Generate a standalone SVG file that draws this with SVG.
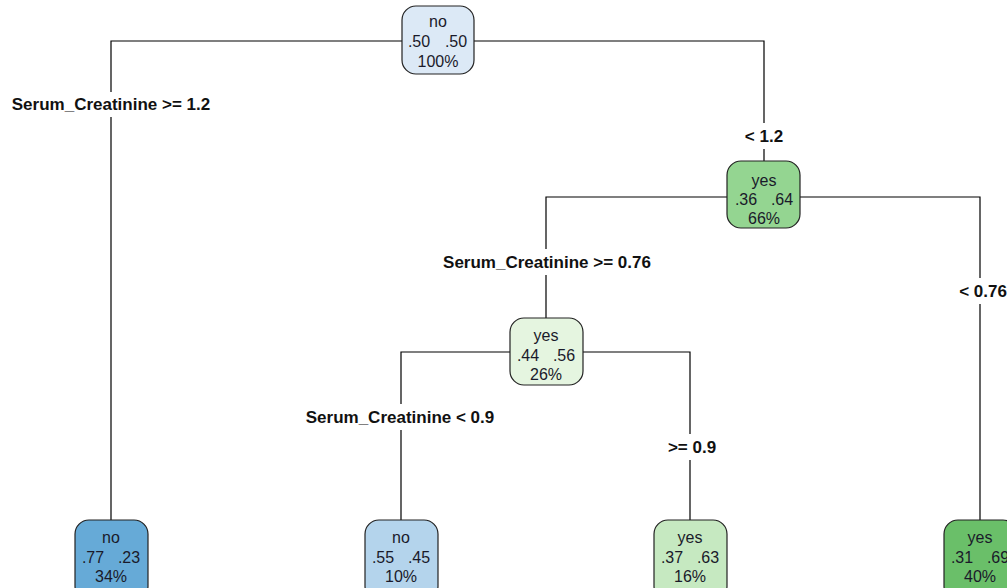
<svg xmlns="http://www.w3.org/2000/svg" width="1007" height="588" viewBox="0 0 1007 588">
<style>
.bg{fill:#ffffff}
.edge{stroke:#000;stroke-width:1.2;fill:none}
.box{stroke:#222;stroke-width:1.2}
.t{font-family:"Liberation Sans",Arial,sans-serif;font-size:16px;fill:#1a1a2a;text-anchor:middle}
.lbl{font-family:"Liberation Sans",Arial,sans-serif;font-size:17px;font-weight:bold;fill:#111;text-anchor:middle}
</style>
<rect class="bg" width="1007" height="588"/>
<g id="connectors">
<path class="edge" d="M402,41 H111 V92 M111,117 V520"/>
<path class="edge" d="M474,41 H764 V123 M764,149 V161"/>
<path class="edge" d="M727,197 H546 V249 M546,275 V318"/>
<path class="edge" d="M800,197 H980 V278 M980,304 V520"/>
<path class="edge" d="M510,352 H401 V404 M401,430 V520"/>
<path class="edge" d="M583,352 H690 V434 M690,460 V520"/>
</g>
<g id="labels">
<text class="lbl" x="111" y="110">Serum_Creatinine &gt;= 1.2</text>
<text class="lbl" x="764" y="142">&lt; 1.2</text>
<text class="lbl" x="547" y="268">Serum_Creatinine &gt;= 0.76</text>
<text class="lbl" x="983" y="297">&lt; 0.76</text>
<text class="lbl" x="400" y="423">Serum_Creatinine &lt; 0.9</text>
<text class="lbl" x="692" y="453">&gt;= 0.9</text>
</g>
<g id="node1">
<rect class="box" x="402" y="6" width="72" height="68" rx="14" fill="#dce9f6"/>
<text class="t" x="438" y="27">no</text>
<text class="t" x="419" y="47">.50</text><text class="t" x="456" y="47">.50</text>
<text class="t" x="438" y="67">100%</text>
</g>
<g id="node2">
<rect class="box" x="727" y="161" width="73" height="67" rx="14" fill="#94d591"/>
<text class="t" x="764" y="186">yes</text>
<text class="t" x="746" y="205">.36</text><text class="t" x="782" y="205">.64</text>
<text class="t" x="764" y="224">66%</text>
</g>
<g id="node3">
<rect class="box" x="510" y="318" width="73" height="67" rx="14" fill="#e5f5e0"/>
<text class="t" x="546" y="341">yes</text>
<text class="t" x="528" y="361">.44</text><text class="t" x="564" y="361">.56</text>
<text class="t" x="546" y="380">26%</text>
</g>
<g id="leaf1">
<rect class="box" x="75" y="520" width="73" height="80" rx="14" fill="#66aad7"/>
<text class="t" x="111" y="543">no</text>
<text class="t" x="93" y="563">.77</text><text class="t" x="129" y="563">.23</text>
<text class="t" x="111" y="582">34%</text>
</g>
<g id="leaf2">
<rect class="box" x="365" y="520" width="73" height="80" rx="14" fill="#b4d4ec"/>
<text class="t" x="401" y="543">no</text>
<text class="t" x="383" y="563">.55</text><text class="t" x="419" y="563">.45</text>
<text class="t" x="401" y="582">10%</text>
</g>
<g id="leaf3">
<rect class="box" x="654" y="520" width="73" height="80" rx="14" fill="#c6e9c1"/>
<text class="t" x="690" y="543">yes</text>
<text class="t" x="672" y="563">.37</text><text class="t" x="708" y="563">.63</text>
<text class="t" x="690" y="582">16%</text>
</g>
<g id="leaf4">
<rect class="box" x="944" y="520" width="73" height="80" rx="14" fill="#6abf69"/>
<text class="t" x="980" y="543">yes</text>
<text class="t" x="962" y="563">.31</text><text class="t" x="998" y="563">.69</text>
<text class="t" x="980" y="582">40%</text>
</g>
</svg>
